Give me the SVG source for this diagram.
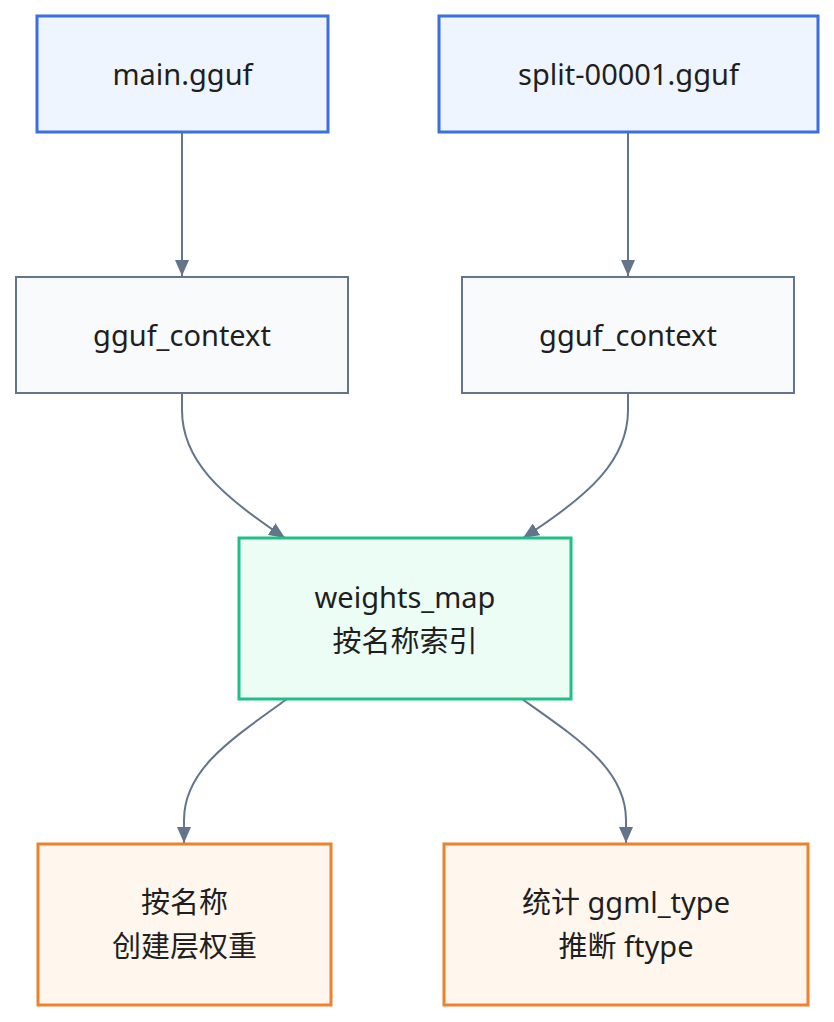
<svg xmlns="http://www.w3.org/2000/svg" width="834" height="1022" viewBox="0 0 834 1022">
<style>
.t{font-family:"Noto Sans","Noto Sans CJK SC",sans-serif;font-size:29px;fill:#1f1f1f;text-anchor:middle;dominant-baseline:central}
.blue{fill:#eef5ff;stroke:#3b6fe0;stroke-width:3}
.gray{fill:#f8fafc;stroke:#64748b;stroke-width:2}
.green{fill:#ecfdf5;stroke:#1fbf86;stroke-width:3}
.orange{fill:#fff7ed;stroke:#f0802e;stroke-width:3}
.e{fill:none;stroke:#64748b;stroke-width:2}
</style>
<defs>
<marker id="ah" viewBox="0 0 16 14" refX="16" refY="7" markerWidth="16" markerHeight="14" markerUnits="userSpaceOnUse" orient="auto">
<path d="M0,0 L16,7 L0,14 Z" fill="#64748b"/>
</marker>
</defs>
<g id="edges">
<path class="e" d="M182,132 L182,276" marker-end="url(#ah)"/>
<path class="e" d="M628,132 L628,276" marker-end="url(#ah)"/>
<path class="e" d="M182,393 L182,410 C182,460 220,495 285,538" marker-end="url(#ah)"/>
<path class="e" d="M628,393 L628,410 C628,460 590,495 523,538" marker-end="url(#ah)"/>
<path class="e" d="M287,699 C230,740 184,770 184,820 L184,843" marker-end="url(#ah)"/>
<path class="e" d="M522,699 C580,740 626,770 626,820 L626,843" marker-end="url(#ah)"/>
</g>
<g id="main"><rect class="blue" x="37" y="16" width="291" height="116"/><text class="t" x="182.5" y="73">main.gguf</text></g>
<g id="split"><rect class="blue" x="439" y="16" width="379" height="116"/><text class="t" x="628.5" y="73">split-00001.gguf</text></g>
<g id="ctx1"><rect class="gray" x="16" y="277" width="332" height="116"/><text class="t" x="182" y="334">gguf_context</text></g>
<g id="ctx2"><rect class="gray" x="462" y="277" width="332" height="116"/><text class="t" x="628" y="334">gguf_context</text></g>
<g id="wmap"><rect class="green" x="239" y="538" width="332" height="161"/><text class="t" x="405" y="596">weights_map</text><text class="t" x="405" y="640">按名称索引</text></g>
<g id="create"><rect class="orange" x="38" y="844" width="293" height="161"/><text class="t" x="184.5" y="901">按名称</text><text class="t" x="184.5" y="945">创建层权重</text></g>
<g id="stat"><rect class="orange" x="444" y="844" width="364" height="161"/><text class="t" x="626" y="901">统计 ggml_type</text><text class="t" x="626" y="945">推断 ftype</text></g>
</svg>
